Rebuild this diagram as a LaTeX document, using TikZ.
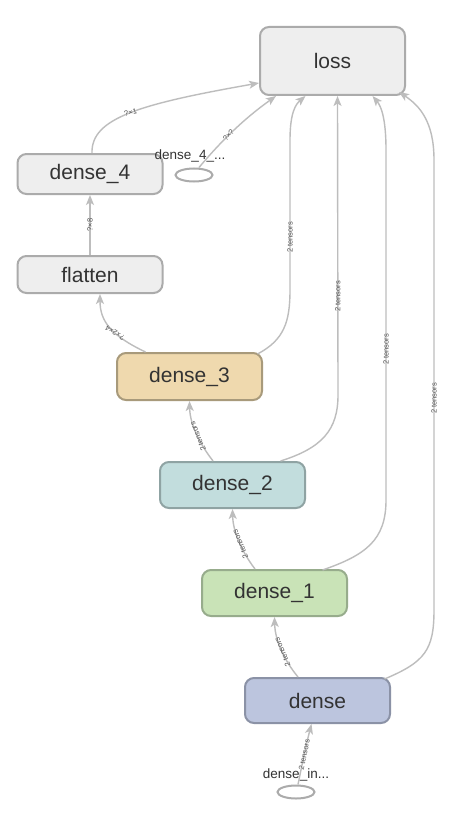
\documentclass[tikz,border=0pt]{standalone}
\usepackage{fontspec}
\setmainfont{Liberation Sans}
\usetikzlibrary{arrows.meta,shapes.geometric}
\definecolor{edgec}{HTML}{BDBDBD}
\definecolor{txt}{HTML}{333333}
\definecolor{labc}{HTML}{555555}
\definecolor{grayf}{HTML}{EEEEEE}
\definecolor{grayd}{HTML}{ABABAB}
\definecolor{d3f}{HTML}{EFD9AE}
\definecolor{d3d}{HTML}{A89A7B}
\definecolor{d2f}{HTML}{C2DDDD}
\definecolor{d2d}{HTML}{8FA3A3}
\definecolor{d1f}{HTML}{C9E3B7}
\definecolor{d1d}{HTML}{97AC8C}
\definecolor{d0f}{HTML}{BCC5DE}
\definecolor{d0d}{HTML}{8B92A6}
\begin{document}
\begin{tikzpicture}[x=1pt,y=-1pt,
  box/.style={draw, rounded corners=9pt, line width=2pt, minimum width=145pt,
    inner sep=0pt, font=\fontsize{21}{25}\selectfont, text=txt},
  graybox/.style={box, fill=grayf, draw=grayd},
  edge/.style={draw=edgec, line width=1.4pt, -{Stealth[length=10pt,width=8pt,inset=2.5pt]}},
  elab/.style={font=\fontsize{7.5}{8}\selectfont, text=labc, inner sep=0.5pt},
  inell/.style={ellipse, draw=grayd, line width=2pt, fill=white, minimum width=37pt, minimum height=13pt, inner sep=0pt},
  inlab/.style={font=\fontsize{13.5}{16}\selectfont, text=txt, inner sep=0pt}]
\useasboundingbox[fill=white] (0,0) rectangle (452,824);

% nodes
\node[graybox, minimum height=68pt] (loss) at (332.5,61) {loss};
\node[graybox, minimum height=40pt] (d4) at (90,174) {dense\_4};
\node[graybox, minimum height=37pt] (fl) at (90,274.5) {flatten};
\node[box, fill=d3f, draw=d3d, minimum height=47pt] (d3) at (189.5,376.5) {dense\_3};
\node[box, fill=d2f, draw=d2d, minimum height=46pt] (d2) at (232.5,485) {dense\_2};
\node[box, fill=d1f, draw=d1d, minimum height=46pt] (d1) at (274.5,593) {dense\_1};
\node[box, fill=d0f, draw=d0d, minimum height=45pt] (d0) at (317.5,700.5) {dense};
\node[inell] (d4in) at (194,175) {};
\node[inlab] (d4inl) at (190,156) {dense\_4\_...};
\node[inell] (dinp) at (296,792) {};
\node[inlab] (dinpl) at (296,775) {dense\_in...};

% edges into loss
\draw[edge] ([xshift=2pt]d4.north) .. controls (91,118) and (140,104) .. ([yshift=13pt]loss.south west)
  node[elab, pos=0.5, rotate=14] {?×1};
\draw[edge] ([xshift=5pt]d4in.north) .. controls (222,140) and (245,118) .. ([xshift=17pt]loss.south west)
  node[elab, pos=0.42, rotate=50] {?×?};
\draw[edge] ([xshift=68pt,yshift=-2pt]d3.north) .. controls (284,340) and (290,322) .. (290,290)
  -- (290,140) node[elab, pos=0.35, rotate=90] {2 tensors}
  .. controls (290,112) and (296,104) .. ([xshift=-27pt]loss.south);
\draw[edge] ([xshift=48pt]d2.north) .. controls (322,448) and (338,430) .. (338,395)
  -- ([xshift=5pt]loss.south) node[elab, pos=0.33, rotate=90] {2 tensors};
\draw[edge] ([xshift=48pt,yshift=-1pt]d1.north) .. controls (366,555) and (386,540) .. (386,500)
  -- (386,150) node[elab, pos=0.43, rotate=90] {2 tensors}
  .. controls (386,118) and (381,106) .. ([xshift=40pt]loss.south);
\draw[edge] ([xshift=67pt,yshift=-2pt]d0.north) .. controls (425,662) and (434,650) .. (434,610)
  -- (434,160) node[elab, pos=0.47, rotate=90] {2 tensors}
  .. controls (434,122) and (420,106) .. ([xshift=-7pt,yshift=4pt]loss.south east);

% chain edges
\draw[edge] (fl.north) -- (d4.south) node[elab, midway, rotate=90] {?×8};
\draw[edge] ([xshift=-44pt]d3.north) .. controls (112,336) and (100,322) .. ([xshift=10pt]fl.south)
  node[elab, pos=0.4, rotate=148] {?×2×4};
\draw[edge] ([xshift=-19.5pt]d2.north) .. controls (200,444) and (190,425) .. (d3.south)
  node[elab, pos=0.45, rotate=112] {2 tensors};
\draw[edge] ([xshift=-19.5pt]d1.north) .. controls (242,552) and (233,532) .. (d2.south)
  node[elab, pos=0.45, rotate=112] {2 tensors};
\draw[edge] ([xshift=-19.5pt]d0.north) .. controls (284,660) and (275,640) .. (d1.south)
  node[elab, pos=0.45, rotate=112] {2 tensors};
\draw[edge] ([xshift=2pt]dinp.north) .. controls (302,765) and (306,745) .. ([xshift=-6pt]d0.south)
  node[elab, pos=0.5, rotate=78] {2 tensors};
\end{tikzpicture}
\end{document}
